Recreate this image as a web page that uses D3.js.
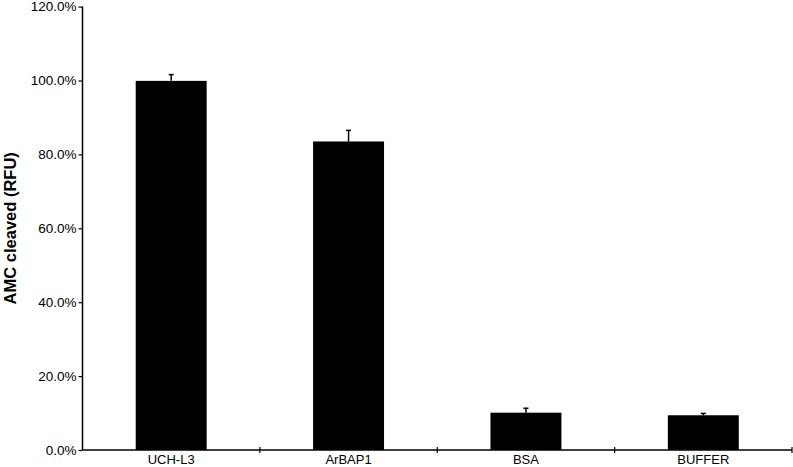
<!DOCTYPE html>
<html><head><meta charset="utf-8">
<script src="https://cdn.jsdelivr.net/npm/d3@7"></script>
<style>body{margin:0;background:#fff}svg{display:block}</style>
</head><body>
<svg id="c" width="793" height="467"></svg>
<script>
const categories = ["UCH-L3", "ArBAP1", "BSA", "BUFFER"];
const values = [0.999, 0.835, 0.101, 0.094];
const errors = [0.017, 0.030, 0.012, 0.005];
const yTicks = [0, 0.2, 0.4, 0.6, 0.8, 1.0, 1.2];
const yTitle = "AMC cleaved (RFU)";

(function () {
const svg = d3.select("#c");
const font = "'Liberation Sans', Arial, sans-serif";
const mLeft = 82.5, mRight = 792, mTop = 6.6, mBottom = 450;

const x = d3.scaleBand().domain(categories).range([mLeft, mRight]).paddingInner(0.6).paddingOuter(0.3);
const xb = d3.scaleBand().domain(categories).range([mLeft, mRight]).padding(0);
const y = d3.scaleLinear().domain([0, 1.2]).range([mBottom, mTop]);

// bars
svg.selectAll("rect.bar").data(categories).join("rect")
  .attr("x", d => x(d)).attr("width", x.bandwidth())
  .attr("y", (d, i) => y(values[i])).attr("height", (d, i) => y(0) - y(values[i]))
  .attr("fill", "#000");

// error bars (upper only)
const cw = 2.5;
categories.forEach((c, i) => {
  const cx = x(c) + x.bandwidth() / 2;
  svg.append("line").attr("x1", cx).attr("x2", cx)
    .attr("y1", y(values[i])).attr("y2", y(values[i] + errors[i]))
    .attr("stroke", "#000").attr("stroke-width", 1.5);
  svg.append("line").attr("x1", cx - cw).attr("x2", cx + cw)
    .attr("y1", y(values[i] + errors[i])).attr("y2", y(values[i] + errors[i]))
    .attr("stroke", "#000").attr("stroke-width", 1.5);
});

// y axis
const ya = svg.append("g").attr("transform", `translate(${mLeft},0)`)
  .call(d3.axisLeft(y).tickValues(yTicks).tickFormat(d3.format(".1%")).tickSize(4).tickPadding(2));
ya.select(".domain").attr("d", `M0,${mTop}V${mBottom}`).attr("stroke-width", 1.5);
ya.selectAll(".tick line").attr("stroke-width", 1.2);
ya.selectAll("text").attr("font-family", font).attr("font-size", 13.5).attr("fill", "#000");

// x axis
const xa = svg.append("g").attr("transform", `translate(0,${mBottom})`)
  .call(d3.axisBottom(x).tickSize(0).tickPadding(5));
xa.select(".domain").attr("d", `M${mLeft},0H${mRight}`).attr("stroke-width", 1.5);
xa.selectAll("text").attr("font-family", font).attr("font-size", 13).attr("fill", "#000");
// boundary ticks
categories.forEach((c) => {
  const bx = xb(c) + xb.bandwidth();
  svg.append("line").attr("x1", bx).attr("x2", bx)
    .attr("y1", mBottom - 3).attr("y2", mBottom + 3)
    .attr("stroke", "#000").attr("stroke-width", 1.2);
});

// y title
svg.append("text").attr("transform", `translate(16,${(mTop + mBottom) / 2}) rotate(-90)`)
  .attr("text-anchor", "middle").attr("font-family", font).attr("font-weight", "bold")
  .attr("font-size", 16.5).text(yTitle);
})();
</script>
</body></html>
